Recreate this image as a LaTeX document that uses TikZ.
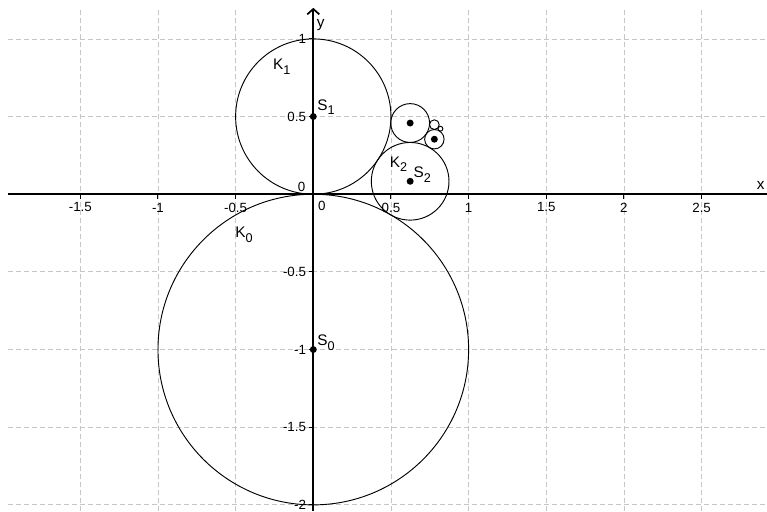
\documentclass[tikz,border=0pt]{standalone}
\usepackage{fontspec}
\setmainfont{Liberation Sans}
\usetikzlibrary{arrows.meta}
\newcommand{\idx}[1]{\raisebox{-3.5pt}{\fontsize{9.5}{11}\selectfont #1}}

\begin{document}
\begin{tikzpicture}[x=4.094cm,y=4.094cm,
  gridline/.style={gray!45, dash pattern=on 3.5pt off 2.5pt, line width=0.6pt},
  axisline/.style={line width=1.3pt},
  ticklbl/.style={font=\fontsize{10}{12}\selectfont, inner sep=0pt},
  kreis/.style={line width=0.7pt},
  punkt/.style={circle, fill=black, inner sep=0pt, minimum size=5.2pt},
  lbl/.style={font=\fontsize{11.5}{13}\selectfont, inner sep=0pt}]
  \useasboundingbox (-2.017,-2.040) rectangle (2.921,1.2505);

  % grid
  \foreach \x in {-1.5,-1,-0.5,0.5,1,1.5,2,2.5}
    \draw[gridline] (\x,-2.04) -- (\x,1.187);
  \foreach \y in {-2,-1.5,-1,-0.5,0.5,1}
    \draw[gridline] (-1.966,\y) -- (2.921,\y);

  % axes
  \coordinate (xl) at (-1.966,0);
  \coordinate (xr) at (2.921,0);
  \coordinate (yb) at (0,-2.04);
  \coordinate (yt) at (0,1.2);
  \draw[axisline] (xl) -- (xr);
  \draw[axisline, -{Straight Barb[length=4pt,width=9pt]}] (yb) -- (yt);
  \node (xlab) [lbl] at (2.881,0.059) {x};
  \node (ylab) [lbl] at (0.048,1.09) {y};

  \foreach \x in {-1.5,-1,-0.5,0.5,1,1.5,2,2.5} {
    \draw[line width=0.8pt] (\x,0) -- (\x,-0.03);
    \node[ticklbl] at (\x,-0.085) {\x};
  }
  \foreach \y in {-2,-1.5,-1,-0.5,0.5,1} {
    \draw[line width=0.8pt] (0,\y) -- (-0.03,\y);
    \node[ticklbl, anchor=east] at (-0.045,\y) {\y};
  }
  \node (x0) [ticklbl] at (0.055,-0.075) {0};
  \node (y0) [ticklbl] at (-0.075,0.05) {0};

  % centres
  \coordinate (S0) at (0,-1);
  \coordinate (S1) at (0,0.5);
  \coordinate (S2) at (0.62361,0.08333);
  \coordinate (S3) at (0.62361,0.45833);
  \coordinate (S4) at (0.77951,0.35417);
  \coordinate (S5) at (0.77951,0.44792);
  \coordinate (S6) at (0.81849,0.42188);

  % circles
  \draw[kreis] (S0) circle (1);
  \draw[kreis] (S1) circle (0.5);
  \draw[kreis] (S2) circle (0.25);
  \draw[kreis] (S3) circle (0.125);
  \draw[kreis] (S4) circle (0.0625);
  \draw[kreis] (S5) circle (0.03125);
  \draw[kreis] (S6) circle (0.015625);

  \foreach \p in {S0,S1,S2,S3,S4}
    \node[punkt] at (\p) {};

  % labels
  \node (k0) [lbl] at (-0.446,-0.263) {K\idx{0}};
  \node (k1) [lbl] at (-0.203,0.821) {K\idx{1}};
  \node (k2) [lbl] at (0.548,0.194) {K\idx{2}};
  \node (s0) [lbl] at (0.082,-0.956) {S\idx{0}};
  \node (s1) [lbl] at (0.082,0.56) {S\idx{1}};
  \node (s2) [lbl] at (0.702,0.124) {S\idx{2}};
\end{tikzpicture}
\end{document}
